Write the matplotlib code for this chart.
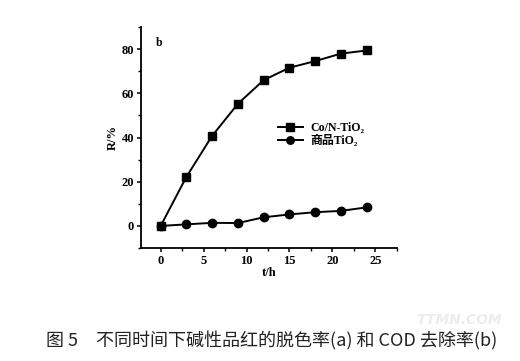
import matplotlib
matplotlib.use("Agg")
import matplotlib.pyplot as plt
from matplotlib.ticker import MultipleLocator

# data
t_hours = [0, 3, 6, 9, 12, 15, 18, 21, 24]
co_n_tio2 = [0, 22.2, 40.8, 55.3, 66.0, 71.6, 74.6, 78.0, 79.4]
commercial_tio2 = [0, 0.7, 1.4, 1.3, 3.9, 5.2, 6.2, 6.8, 8.4]
series_labels = ["Co/N-TiO₂", "商品TiO₂"]
caption = "图 5　不同时间下碱性品红的脱色率(a) 和 COD 去除率(b)"

serif = ["Liberation Serif", "Noto Sans CJK SC", "DejaVu Sans"]
plt.rcParams["font.family"] = serif

fig = plt.figure(figsize=(5.2, 3.61), dpi=100)
ax = fig.add_axes([0.271, 0.313, 0.492, 0.612])

ax.plot(t_hours, co_n_tio2, color="black", lw=1.4, marker="s", ms=6,
        label=series_labels[0])
ax.plot(t_hours, commercial_tio2, color="black", lw=1.4, marker="o", ms=6,
        label=series_labels[1])

ax.set_xlim(-2.3, 27.5)
ax.set_ylim(-10, 90)
ax.xaxis.set_major_locator(MultipleLocator(5))
ax.xaxis.set_minor_locator(MultipleLocator(2.5))
ax.yaxis.set_major_locator(MultipleLocator(20))
ax.yaxis.set_minor_locator(MultipleLocator(10))

for side in ["top", "right"]:
    ax.spines[side].set_visible(False)
for side in ["left", "bottom"]:
    ax.spines[side].set_linewidth(1.3)

ax.tick_params(which="major", direction="out", length=3, width=1.1,
               labelsize=9, pad=2)
ax.tick_params(which="minor", direction="out", length=2, width=1.0)
for lab in ax.get_xticklabels() + ax.get_yticklabels():
    lab.set_fontweight("bold")

ax.set_xlabel("t/h", fontsize=9, fontweight="bold", labelpad=0)
ax.set_ylabel("R/%", fontsize=9, fontweight="bold", labelpad=2)

ax.text(0.06, 0.93, "b", transform=ax.transAxes, fontsize=8.5,
        fontweight="bold", ha="left", va="center")

leg = ax.legend(loc="upper left", bbox_to_anchor=(0.535, 0.57), frameon=False,
                handlelength=2.1, handletextpad=0.6, labelspacing=0.05,
                prop={"family": serif, "weight": "bold", "size": 8.6},
                borderaxespad=0, borderpad=0, markerscale=0.9)

fig.text(0.522, 0.03, caption, ha="center", va="bottom", fontsize=13,
         family=["Noto Sans CJK SC", "DejaVu Sans"], color="#222222")

# faint watermark seen in the corner of the scan
fig.text(0.965, 0.095, "TTMN.COM", ha="right", va="bottom", fontsize=10,
         fontweight="bold", fontstyle="italic", color="#ececec",
         family=["DejaVu Sans"])

fig.savefig("out.png", dpi=100)
